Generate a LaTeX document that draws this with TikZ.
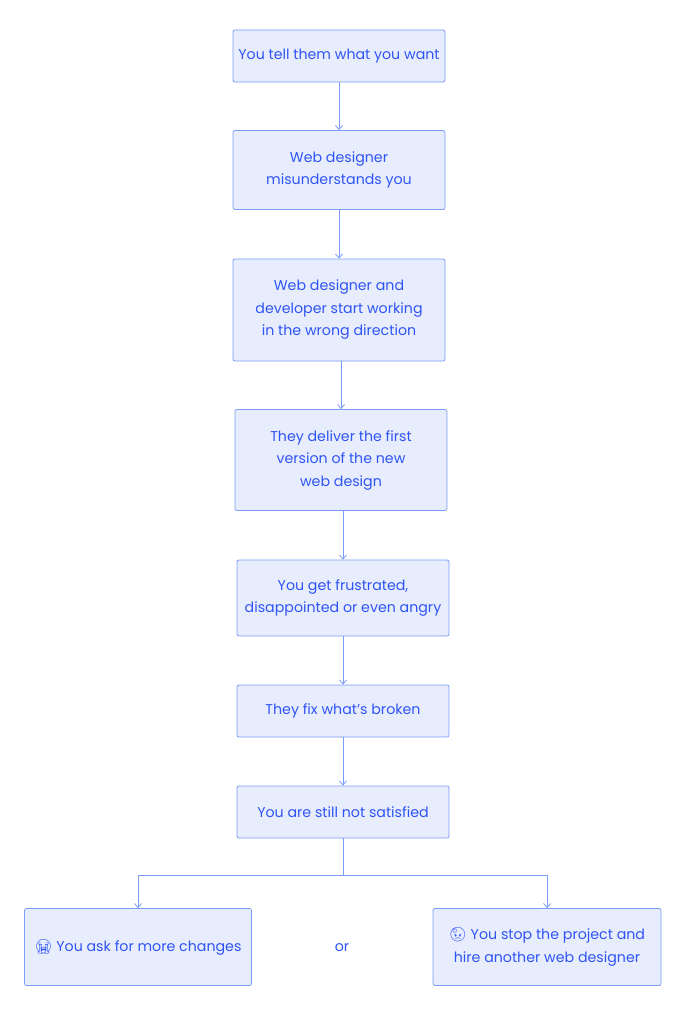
\documentclass[tikz,border=0pt]{standalone}
\usepackage{fontspec}
\setmainfont{Poppins}
\newfontfamily\emo{Noto Emoji}
\usetikzlibrary{arrows.meta}
\definecolor{bfill}{HTML}{E8EDFD}
\definecolor{bline}{HTML}{7C9CFA}
\definecolor{btext}{HTML}{2F54F5}
\begin{document}
\begin{tikzpicture}[x=1pt,y=-1pt,
  box/.style={draw=bline,fill=bfill,rounded corners=2pt,line width=0.8pt,text=btext,align=center,font=\fontsize{14.2}{22.5}\selectfont,inner sep=0pt},
  conn/.style={draw=bline,line width=0.8pt,-{Straight Barb[length=4pt,width=7pt]}}]
\useasboundingbox (0,0) rectangle (686,1024);
\fill[white] (0,0) rectangle (686,1024);
\node[box,minimum width=212,minimum height=52] (a) at (339,56) {You tell them what you want};
\node[box,minimum width=212,minimum height=79] (b) at (339,170) {Web designer\\misunderstands you};
\node[box,minimum width=212,minimum height=102] (c) at (339,310) {Web designer and\\developer start working\\in the wrong direction};
\node[box,minimum width=212,minimum height=101] (d) at (341,460) {They deliver the first\\version of the new\\web design};
\node[box,minimum width=212,minimum height=76] (e) at (343,598) {You get frustrated,\\disappointed or even angry};
\node[box,minimum width=212,minimum height=52] (f) at (343,711) {They fix what’s broken};
\node[box,minimum width=212,minimum height=52] (g) at (343,812) {You are still not satisfied};
\node[box,minimum width=227,minimum height=77] (h) at (138,947) {{\emo 😭} You ask for more changes};
\node[box,minimum width=228,minimum height=77] (i) at (547,947) {{\emo 😡} You stop the project and\\hire another web designer};
\node[text=btext,font=\fontsize{14.2}{17}\selectfont] (or) at (342,948) {or};
\draw[conn] (a) -- (b);
\draw[conn] (b) -- (c);
\draw[conn] (c.south -| d.north) -- (d);
\draw[conn] (d.south -| e.north) -- (e);
\draw[conn] (e) -- (f);
\draw[conn] (f) -- (g);
\coordinate (br) at (343,875);
\draw[conn] (g.south) -- (br) -| (h.north);
\draw[conn] (br) -| (i.north);
\end{tikzpicture}
\end{document}
